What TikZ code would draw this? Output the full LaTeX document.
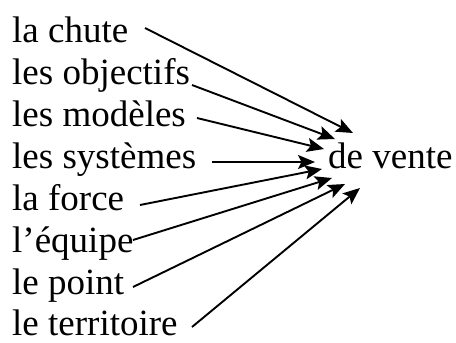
\documentclass[tikz,border=0pt]{standalone}
\usepackage{fontspec}
\setmainfont{Liberation Serif}
\usetikzlibrary{arrows.meta}
\begin{document}
\begin{tikzpicture}[x=1pt,y=-1pt,
  word/.style={anchor=base west,inner sep=0pt,font=\fontsize{37}{40}\selectfont},
  link/.style={line width=1.9pt,-{Stealth[length=17pt,width=14pt,inset=3.5pt]}}]
\useasboundingbox (0,0) rectangle (456,343);
% left-hand column of words
\node[word] (w1) at (12,42)  {la chute};
\node[word] (w2) at (12,84)  {les objectifs};
\node[word] (w3) at (12,126) {les modèles};
\node[word] (w4) at (12,168) {les systèmes};
\node[word] (w5) at (12,210) {la force};
\node[word] (w6) at (12,252) {l’équipe};
\node[word] (w7) at (12,294) {le point};
\node[word] (w8) at (12,335) {le territoire};
% common complement
\node[word] (dv) at (328,168) {de vente};
% arrow tails and heads
\coordinate (s1) at (145,28);  \coordinate (t1) at (353,133);
\coordinate (s2) at (192,85);  \coordinate (t2) at (335,139);
\coordinate (s3) at (197,118); \coordinate (t3) at (324,149);
\coordinate (s4) at (212,162); \coordinate (t4) at (315,162);
\coordinate (s5) at (140,205); \coordinate (t5) at (322,169);
\coordinate (s6) at (133,240); \coordinate (t6) at (332,178);
\coordinate (s7) at (133,287); \coordinate (t7) at (345,184);
\coordinate (s8) at (192,327); \coordinate (t8) at (360,188);
\foreach \i in {1,...,8} \draw[link] (s\i) -- (t\i);
\end{tikzpicture}
\end{document}
